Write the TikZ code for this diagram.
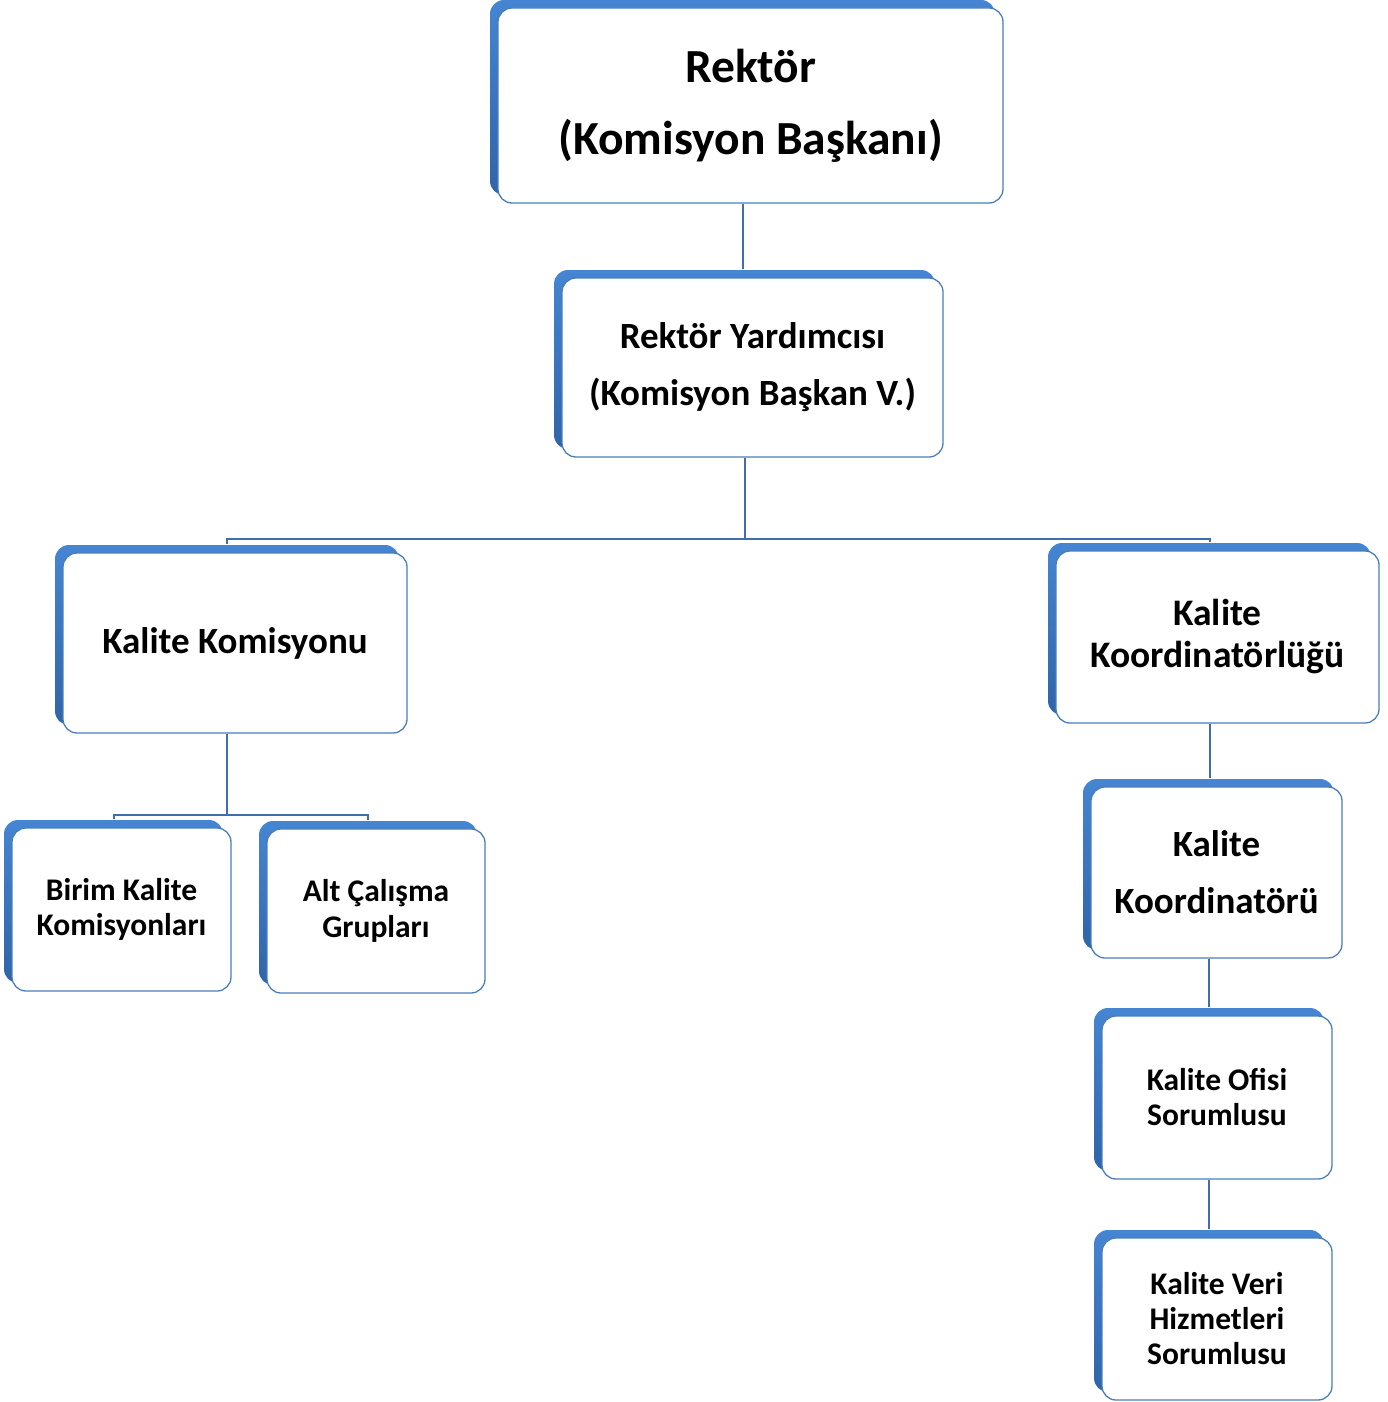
\documentclass[tikz,border=0pt]{standalone}
\usepackage{fontspec}
\setmainfont{Carlito}
\usetikzlibrary{shadows,calc}
\definecolor{boxblue}{HTML}{3C78C8}
\definecolor{boxtop}{HTML}{4585D2}
\definecolor{boxbot}{HTML}{2F64A8}
\definecolor{edgeblue}{HTML}{4A7EBB}
\definecolor{linkblue}{HTML}{3F6DAE}
\newcommand{\fsz}[2]{\bfseries\fontsize{#1}{#2}\selectfont}
\begin{document}
\begin{tikzpicture}[x=1pt,y=-1pt,
  kbox/.style={draw=edgeblue, line width=1.3pt, fill=white, rounded corners=14pt,
    align=center, inner sep=0pt,
    copy shadow={shadow xshift=-8pt, shadow yshift=8pt, draw=none,
      top color=boxtop, bottom color=boxbot}},
  conn/.style={draw=linkblue, line width=2pt}]
\useasboundingbox (0,0) rectangle (1388,1402);

\node[kbox, minimum width=505pt, minimum height=195pt, font=\fsz{47.5}{72}] (r) at (750.5,105.5)
  {Rektör\\(Komisyon Başkanı)};
\node[kbox, minimum width=381pt, minimum height=179pt, font=\fsz{37}{57}] (ry) at (752.5,367.5)
  {Rektör Yardımcısı\\(Komisyon Başkan V.)};
\node[kbox, minimum width=344pt, minimum height=180pt, font=\fsz{37}{42}] (kk) at (235,643)
  {Kalite Komisyonu};
\node[kbox, minimum width=323pt, minimum height=172pt, font=\fsz{37.5}{42}] (kl) at (1217.5,637)
  {Kalite\\Koordinatörlüğü};
\node[kbox, minimum width=219pt, minimum height=163pt, font=\fsz{31.5}{35}] (bk) at (121.5,909.5)
  {Birim Kalite\\Komisyonları};
\node[kbox, minimum width=218pt, minimum height=164pt, font=\fsz{31.5}{36}] (ag) at (376,911)
  {Alt Çalışma\\Grupları};
\node[kbox, minimum width=251pt, minimum height=171pt, font=\fsz{37}{57}] (kc) at (1216.5,872.5)
  {Kalite\\Koordinatörü};
\node[kbox, minimum width=230pt, minimum height=163pt, font=\fsz{31.5}{35}] (ko) at (1217,1097.5)
  {Kalite Ofisi\\Sorumlusu};
\node[kbox, minimum width=230pt, minimum height=162pt, font=\fsz{31.5}{35}] (kv) at (1217,1319)
  {Kalite Veri\\Hizmetleri\\Sorumlusu};

\coordinate (rb) at ($(r.south)+(-8,0)$);
\coordinate (ryt) at ($(ry.north)+(-8,-8)$);
\coordinate (ryb) at ($(ry.south)+(-8,0)$);
\coordinate (kkt) at ($(kk.north)+(-8,-8)$);
\coordinate (kkb) at ($(kk.south)+(-8,0)$);
\coordinate (klt) at ($(kl.north)+(-8,-8)$);
\coordinate (klb) at ($(kl.south)+(-8,0)$);
\coordinate (bkt) at ($(bk.north)+(-8,-8)$);
\coordinate (agt) at ($(ag.north)+(-8,-8)$);
\coordinate (kct) at ($(kc.north)+(-8,-8)$);
\coordinate (kcb) at ($(kc.south)+(-8,0)$);
\coordinate (kot) at ($(ko.north)+(-8,-8)$);
\coordinate (kob) at ($(ko.south)+(-8,0)$);
\coordinate (kvt) at ($(kv.north)+(-8,-8)$);

\draw[conn] (rb) -- (rb |- ryt);
\draw[conn] (ryb) -- ++(0,81) -| (kkt);
\draw[conn] (ryb) -- ++(0,81) -| (klt);
\draw[conn] (kkb) -- ++(0,81) -| (bkt);
\draw[conn] (kkb) -- ++(0,81) -| (agt);
\draw[conn] (klb) -- (klb |- kct);
\draw[conn] (kcb) -- (kcb |- kot);
\draw[conn] (kob) -- (kob |- kvt);
\end{tikzpicture}
\end{document}
